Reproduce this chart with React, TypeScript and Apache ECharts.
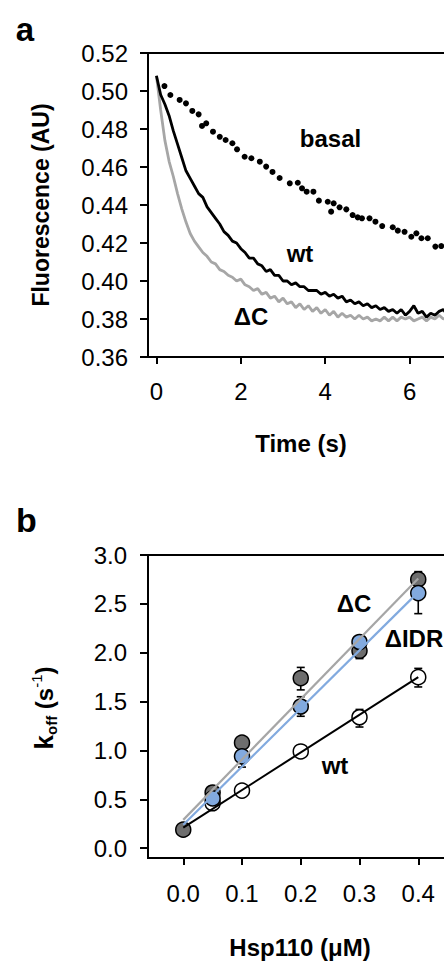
import React, { useEffect, useRef } from "react";
import * as echarts from "echarts";

// ---------- Panel a data ----------
const TIME_TICKS = [0, 2, 4, 6];
const T_TRACE = [
  0.0, 0.1, 0.2, 0.3, 0.4, 0.5, 0.6, 0.7, 0.8, 0.9,
  1.0, 1.1, 1.2, 1.3, 1.4, 1.5, 1.6, 1.7, 1.8, 1.9,
  2.0, 2.1, 2.2, 2.3, 2.4, 2.5, 2.6, 2.7, 2.8, 2.9,
  3.0, 3.1, 3.2, 3.3, 3.4, 3.5, 3.6, 3.7, 3.8, 3.9,
  4.0, 4.1, 4.2, 4.3, 4.4, 4.5, 4.6, 4.7, 4.8, 4.9,
  5.0, 5.1, 5.2, 5.3, 5.4, 5.5, 5.6, 5.7, 5.8, 5.9,
  6.0, 6.1, 6.2, 6.3, 6.4, 6.5, 6.6, 6.7, 6.8, 6.9, 7.0,
];
const WT_TRACE = [
  0.508, 0.498, 0.493, 0.487, 0.479, 0.472, 0.465, 0.458, 0.454, 0.450,
  0.446, 0.444, 0.439, 0.436, 0.433, 0.430, 0.426, 0.424, 0.421, 0.420,
  0.417, 0.415, 0.412, 0.412, 0.409, 0.408, 0.405, 0.406, 0.403, 0.403,
  0.400, 0.400, 0.398, 0.399, 0.397, 0.397, 0.395, 0.395, 0.395, 0.393,
  0.394, 0.392, 0.393, 0.391, 0.392, 0.389, 0.390, 0.388, 0.389, 0.387,
  0.388, 0.386, 0.387, 0.385, 0.386, 0.384, 0.385, 0.383, 0.385, 0.382,
  0.384, 0.387, 0.383, 0.384, 0.381, 0.383, 0.382, 0.384, 0.385, 0.382, 0.383,
];
const DC_TRACE = [
  0.508, 0.490, 0.474, 0.463, 0.455, 0.446, 0.438, 0.431, 0.425, 0.421,
  0.418, 0.415, 0.413, 0.410, 0.409, 0.406, 0.405, 0.403, 0.402, 0.400,
  0.401, 0.398, 0.397, 0.395, 0.396, 0.393, 0.394, 0.391, 0.392, 0.389,
  0.391, 0.388, 0.389, 0.386, 0.388, 0.385, 0.387, 0.384, 0.386, 0.383,
  0.385, 0.382, 0.384, 0.381, 0.383, 0.381, 0.382, 0.380, 0.382, 0.380,
  0.381, 0.379, 0.380, 0.379, 0.381, 0.379, 0.381, 0.379, 0.381, 0.380,
  0.381, 0.379, 0.380, 0.381, 0.379, 0.381, 0.380, 0.382, 0.380, 0.381, 0.380,
];
const BASAL_T = [
  0.19, 0.33, 0.55, 0.70, 0.85, 1.00, 1.08, 1.18, 1.34, 1.50,
  1.64, 1.80, 1.91, 2.09, 2.25, 2.45, 2.60, 2.75, 2.92, 3.16,
  3.35, 3.45, 3.56, 3.72, 3.85, 4.06, 4.14, 4.20, 4.34, 4.50,
  4.65, 4.77, 4.87, 5.05, 5.19, 5.35, 5.60, 5.72, 5.88, 6.04,
  6.16, 6.28, 6.43, 6.61, 6.75, 6.95, 7.15,
];
const BASAL_F = [
  0.5026, 0.4979, 0.4953, 0.4935, 0.4895, 0.4877, 0.4816, 0.4830, 0.4786, 0.4759,
  0.4742, 0.4725, 0.4693, 0.4654, 0.4646, 0.4628, 0.4602, 0.4574, 0.4542, 0.4514,
  0.4517, 0.4488, 0.4470, 0.4470, 0.4423, 0.4417, 0.4365, 0.4409, 0.4388, 0.4377,
  0.4347, 0.4335, 0.4330, 0.4330, 0.4312, 0.4289, 0.4283, 0.4265, 0.4259, 0.4233,
  0.4251, 0.4225, 0.4225, 0.4181, 0.4184, 0.4170, 0.4150,
];

// ---------- Panel b data ----------
const CONC_TICKS = [0, 0.1, 0.2, 0.3, 0.4];
const KOFF_TICKS = [0, 0.5, 1.0, 1.5, 2.0, 2.5, 3.0];

const WT_X = [0.05, 0.1, 0.2, 0.3, 0.4];
const WT_K = [0.46, 0.59, 0.99, 1.34, 1.75];
const WT_LO = [0.43, 0.56, 0.96, 1.24, 1.65];
const WT_HI = [0.49, 0.62, 1.02, 1.42, 1.84];

const IDR_X = [0.05, 0.1, 0.2, 0.3, 0.4];
const IDR_K = [0.51, 0.94, 1.45, 2.11, 2.61];
const IDR_LO = [0.45, 0.83, 1.35, 2.04, 2.40];
const IDR_HI = [0.57, 1.05, 1.55, 2.17, 2.82];

const DC_X = [0.0, 0.05, 0.1, 0.2, 0.3, 0.4];
const DC_K = [0.19, 0.57, 1.08, 1.74, 2.02, 2.75];
const DC_LO = [0.17, 0.51, 1.03, 1.62, 1.94, 2.67];
const DC_HI = [0.21, 0.63, 1.13, 1.85, 2.10, 2.83];

const FIT_X = [0, 0.4];
const WT_FIT = [0.21, 1.75];
const DC_FIT = [0.29, 2.76];
const IDR_FIT = [0.24, 2.62];

const FONT = "Arial, 'Liberation Sans', sans-serif";
const BLUE = "#82aadf";
const DARK = "#6e6e6e";
const LIGHT_LINE = "#a6a6a6";

const zip = (xs: number[], ys: number[]) => xs.map((x, i) => [x, ys[i]]);
const zip3 = (xs: number[], lo: number[], hi: number[]) =>
  xs.map((x, i) => [x, lo[i], hi[i]]);

function errorBars(data: number[][]) {
  return {
    type: "custom",
    xAxisIndex: 1,
    yAxisIndex: 1,
    data,
    encode: { x: 0, y: [1, 2] },
    clip: false,
    renderItem: (_p: any, api: any) => {
      const x = api.value(0);
      const lo = api.coord([x, api.value(1)]);
      const hi = api.coord([x, api.value(2)]);
      const w = 4;
      const style = { stroke: "#000", lineWidth: 1.6 };
      return {
        type: "group",
        children: [
          { type: "line", shape: { x1: lo[0], y1: lo[1], x2: hi[0], y2: hi[1] }, style },
          { type: "line", shape: { x1: lo[0] - w, y1: lo[1], x2: lo[0] + w, y2: lo[1] }, style },
          { type: "line", shape: { x1: hi[0] - w, y1: hi[1], x2: hi[0] + w, y2: hi[1] }, style },
        ],
      };
    },
  };
}

function axisCommon() {
  return {
    axisLine: { show: true, onZero: false, lineStyle: { color: "#000", width: 2 } },
    axisTick: { show: true, inside: false, length: 8, lineStyle: { color: "#000", width: 2 } },
    splitLine: { show: false },
  };
}

const labelText = (text: string, x: number, y: number, size = 24) => ({
  type: "text",
  x,
  y,
  style: {
    text,
    font: `bold ${size}px ${FONT}`,
    fill: "#000",
    align: "center",
    verticalAlign: "middle",
  },
});

export default function App() {
  const ref = useRef<HTMLDivElement>(null);

  useEffect(() => {
    if (!ref.current) return;
    const chart = echarts.init(ref.current, undefined, { renderer: "svg" });

    const option: any = {
      animation: false,
      backgroundColor: "#fff",
      grid: [
        { left: 148, top: 53, width: 346, height: 304, outerBoundsMode: "none", containLabel: false, show: true, borderColor: "#000", borderWidth: 2, backgroundColor: "transparent" },
        { left: 148, top: 555, width: 329, height: 303, outerBoundsMode: "none", containLabel: false, show: true, borderColor: "#000", borderWidth: 2, backgroundColor: "transparent" },
      ],
      xAxis: [
        {
          type: "value",
          gridIndex: 0,
          min: -0.2,
          max: 8,
          ...axisCommon(),
          axisTick: { show: true, inside: false, length: 7, customValues: TIME_TICKS, lineStyle: { color: "#000", width: 2 } },
          axisLabel: { customValues: TIME_TICKS, margin: 22, fontSize: 24, fontFamily: FONT, color: "#000", formatter: (v: number) => String(v) },
        },
        {
          type: "value",
          gridIndex: 1,
          min: -0.06,
          max: 0.5,
          ...axisCommon(),
          axisTick: { show: true, inside: false, length: 7, customValues: CONC_TICKS, lineStyle: { color: "#000", width: 2 } },
          axisLabel: { customValues: CONC_TICKS, margin: 23, fontSize: 24, fontFamily: FONT, color: "#000", formatter: (v: number) => v.toFixed(1) },
        },
      ],
      yAxis: [
        {
          type: "value",
          gridIndex: 0,
          min: 0.36,
          max: 0.52,
          interval: 0.02,
          ...axisCommon(),
          axisLabel: { margin: 20, fontSize: 24, fontFamily: FONT, color: "#000", formatter: (v: number) => v.toFixed(2) },
        },
        {
          type: "value",
          gridIndex: 1,
          min: -0.1,
          max: 3.0,
          ...axisCommon(),
          axisTick: { show: true, inside: false, length: 8, customValues: KOFF_TICKS, lineStyle: { color: "#000", width: 2 } },
          axisLabel: { customValues: KOFF_TICKS, margin: 21, fontSize: 24, fontFamily: FONT, color: "#000", formatter: (v: number) => v.toFixed(1) },
        },
      ],
      series: [
        // panel a
        {
          type: "line",
          name: "ΔC",
          xAxisIndex: 0,
          yAxisIndex: 0,
          data: zip(T_TRACE, DC_TRACE),
          showSymbol: false,
          lineStyle: { color: LIGHT_LINE, width: 2.8 },
        },
        {
          type: "line",
          name: "wt",
          xAxisIndex: 0,
          yAxisIndex: 0,
          data: zip(T_TRACE, WT_TRACE),
          showSymbol: false,
          lineStyle: { color: "#000", width: 2.8 },
        },
        {
          type: "scatter",
          name: "basal",
          xAxisIndex: 0,
          yAxisIndex: 0,
          data: zip(BASAL_T, BASAL_F),
          symbol: "circle",
          symbolSize: 6,
          itemStyle: { color: "#000", opacity: 1 },
        },
        // panel b fit lines
        {
          type: "line", xAxisIndex: 1, yAxisIndex: 1, data: zip(FIT_X, DC_FIT),
          showSymbol: false, lineStyle: { color: LIGHT_LINE, width: 2.2 },
        },
        {
          type: "line", xAxisIndex: 1, yAxisIndex: 1, data: zip(FIT_X, IDR_FIT),
          showSymbol: false, lineStyle: { color: BLUE, width: 2.2 },
        },
        {
          type: "line", xAxisIndex: 1, yAxisIndex: 1, data: zip(FIT_X, WT_FIT),
          showSymbol: false, lineStyle: { color: "#000", width: 2 },
        },
        // error bars
        errorBars(zip3(WT_X, WT_LO, WT_HI)),
        errorBars(zip3(DC_X, DC_LO, DC_HI)),
        errorBars(zip3(IDR_X, IDR_LO, IDR_HI)),
        // points
        {
          type: "scatter", name: "wt", xAxisIndex: 1, yAxisIndex: 1, data: zip(WT_X, WT_K),
          symbolSize: 15, itemStyle: { color: "#fff", borderColor: "#000", borderWidth: 1.5, opacity: 1 },
        },
        {
          type: "scatter", name: "ΔC", xAxisIndex: 1, yAxisIndex: 1, data: zip(DC_X, DC_K),
          symbolSize: 15, itemStyle: { color: DARK, borderColor: "#000", borderWidth: 1.5, opacity: 1 },
        },
        {
          type: "scatter", name: "ΔIDR", xAxisIndex: 1, yAxisIndex: 1, data: zip(IDR_X, IDR_K),
          symbolSize: 15, itemStyle: { color: BLUE, borderColor: "#000", borderWidth: 1.5, opacity: 1 },
        },
      ],
      graphic: [
        labelText("a", 25, 29.5, 33),
        labelText("b", 26.5, 520, 34),
        labelText("basal", 330.5, 138.6),
        labelText("wt", 300, 253),
        labelText("ΔC", 251, 316.6),
        labelText("Time (s)", 301, 443),
        {
          type: "text",
          x: 41,
          y: 205,
          rotation: Math.PI / 2,
          style: {
            text: "Fluorescence (AU)",
            font: `bold 23px ${FONT}`,
            fill: "#000",
            align: "center",
            verticalAlign: "middle",
          },
        },
        labelText("ΔC", 354, 603.6),
        labelText("ΔIDR", 414, 638.3),
        labelText("wt", 335, 765),
        labelText("Hsp110 (μM)", 300, 947),
        {
          type: "text",
          x: 44,
          y: 708,
          rotation: Math.PI / 2,
          style: {
            text: "{k|k}{sub|off}{n| (s}{sup|-1}{n|)}",
            align: "center",
            verticalAlign: "middle",
            fill: "#000",
            rich: {
              k: { font: `bold 26px ${FONT}`, lineHeight: 30, verticalAlign: "middle" },
              n: { font: `bold 24px ${FONT}`, lineHeight: 30, verticalAlign: "middle" },
              sub: { font: `bold 15px ${FONT}`, lineHeight: 15, verticalAlign: "bottom" },
              sup: { font: `15px ${FONT}`, lineHeight: 15, verticalAlign: "top" },
            },
          },
        },
      ],
    };

    chart.setOption(option);
    return () => chart.dispose();
  }, []);

  return (
    <div
      ref={ref}
      style={{ position: "absolute", left: 0, top: 0, width: 444, height: 962, overflow: "hidden" }}
    />
  );
}
